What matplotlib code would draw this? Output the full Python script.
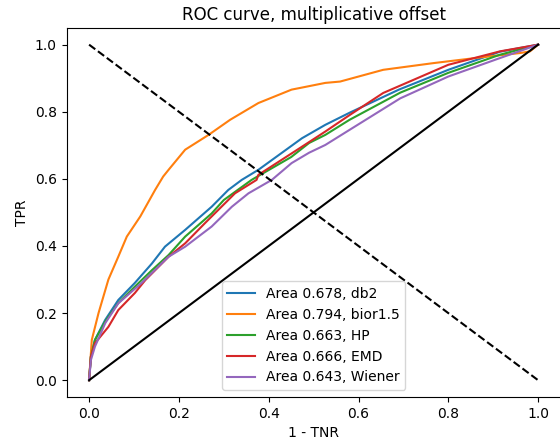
import matplotlib
matplotlib.use("Agg")
import matplotlib.pyplot as plt

fpr_db2 = [0.0, 0.004, 0.013, 0.036, 0.065, 0.102, 0.14, 0.169, 0.214, 0.273, 0.31, 0.34, 0.377, 0.474, 0.526, 0.58, 0.69, 0.80, 0.915, 1.0]
tpr_db2 = [0.0, 0.07, 0.12, 0.18, 0.239, 0.29, 0.348, 0.398, 0.448, 0.517, 0.567, 0.597, 0.627, 0.721, 0.761, 0.797, 0.866, 0.925, 0.979, 1.0]

fpr_bior = [0.0, 0.002, 0.006, 0.021, 0.043, 0.065, 0.084, 0.114, 0.147, 0.165, 0.177, 0.214, 0.266, 0.314, 0.377, 0.451, 0.47, 0.526, 0.559, 0.655, 0.767, 0.878, 0.96, 0.982, 1.0]
tpr_bior = [0.0, 0.04, 0.12, 0.20, 0.30, 0.368, 0.428, 0.488, 0.567, 0.607, 0.627, 0.687, 0.731, 0.776, 0.826, 0.866, 0.871, 0.886, 0.89, 0.925, 0.945, 0.963, 0.975, 0.98, 1.0]

fpr_hp = [0.0, 0.004, 0.013, 0.036, 0.065, 0.102, 0.14, 0.177, 0.214, 0.273, 0.30, 0.362, 0.45, 0.49, 0.526, 0.58, 0.693, 0.80, 0.915, 1.0]
tpr_hp = [0.0, 0.07, 0.12, 0.175, 0.23, 0.279, 0.328, 0.373, 0.428, 0.497, 0.537, 0.597, 0.665, 0.707, 0.731, 0.776, 0.857, 0.916, 0.97, 1.0]

fpr_emd = [0.0, 0.004, 0.013, 0.043, 0.065, 0.102, 0.125, 0.177, 0.214, 0.258, 0.325, 0.373, 0.377, 0.45, 0.526, 0.58, 0.655, 0.80, 0.915, 1.0]
tpr_emd = [0.0, 0.07, 0.11, 0.159, 0.209, 0.26, 0.298, 0.368, 0.408, 0.468, 0.557, 0.597, 0.612, 0.675, 0.741, 0.79, 0.856, 0.94, 0.98, 1.0]

fpr_wien = [0.0, 0.004, 0.013, 0.036, 0.065, 0.117, 0.177, 0.214, 0.273, 0.318, 0.355, 0.407, 0.451, 0.49, 0.526, 0.58, 0.693, 0.80, 0.915, 1.0]
tpr_wien = [0.0, 0.06, 0.10, 0.17, 0.229, 0.29, 0.368, 0.398, 0.458, 0.517, 0.557, 0.597, 0.647, 0.678, 0.701, 0.746, 0.84, 0.905, 0.96, 1.0]

labels = ["Area 0.678, db2", "Area 0.794, bior1.5", "Area 0.663, HP",
          "Area 0.666, EMD", "Area 0.643, Wiener"]
colors = ["#1f77b4", "#ff7f0e", "#2ca02c", "#d62728", "#9467bd"]

fig = plt.figure(figsize=(5.6, 4.41), dpi=100)
ax = fig.add_axes([0.119, 0.0998, 0.882, 0.837])

curves = [(fpr_db2, tpr_db2), (fpr_bior, tpr_bior), (fpr_hp, tpr_hp),
          (fpr_emd, tpr_emd), (fpr_wien, tpr_wien)]
for (x, y), lab, c in zip(curves, labels, colors):
    ax.plot(x, y, color=c, label=lab, lw=1.5)

ax.plot([0, 1], [0, 1], color="black", lw=1.5)
ax.plot([0, 1], [1, 0], color="black", lw=1.5, linestyle="--")

ax.set_xticks([0.0, 0.2, 0.4, 0.6, 0.8, 1.0])
ax.set_yticks([0.0, 0.2, 0.4, 0.6, 0.8, 1.0])
ax.set_title("ROC curve, multiplicative offset")
ax.set_xlabel("1 - TNR")
ax.set_ylabel("TPR")
ax.legend(loc="lower center")

fig.savefig("out.png", dpi=100)
